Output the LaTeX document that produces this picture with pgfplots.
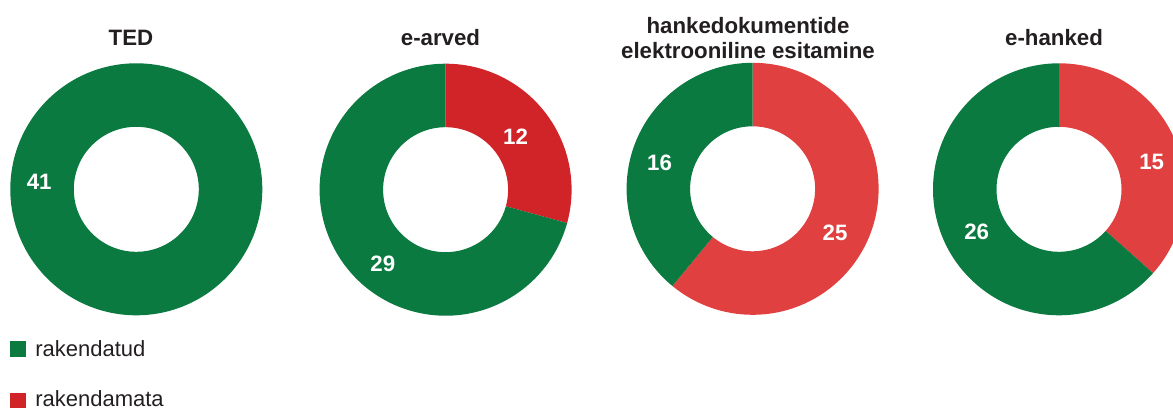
\documentclass[border=0pt]{standalone}
\usepackage{pgfplots}
\pgfplotsset{compat=1.18}
\usepackage{fontspec}
\setmainfont{Liberation Sans}
\definecolor{impl}{RGB}{11,122,65}
\definecolor{notimplA}{RGB}{209,36,41}
\definecolor{notimplB}{RGB}{224,64,64}
\definecolor{txt}{RGB}{35,31,32}
\newcommand\Rout{94.5pt}
\newcommand\Rin{46.875pt}
\newcommand\titlefont{\fontsize{16.7}{20}\selectfont\bfseries}
% \slice{cx}{cy}{from}{to}{total}{colour}
\newcommand\slice[6]{%
  \fill[#6] ([shift={({90-360*#3/#5}:\Rout)}]axis cs:#1,#2)
    arc[start angle={90-360*#3/#5}, end angle={90-360*#4/#5}, radius=\Rout]
    -- ([shift={({90-360*#4/#5}:\Rin)}]axis cs:#1,#2)
    arc[start angle={90-360*#4/#5}, end angle={90-360*#3/#5}, radius=\Rin]
    -- cycle;}
\begin{document}
\begin{tikzpicture}
\useasboundingbox (0,0) rectangle (879.75pt,307.5pt);
\clip (0,0) rectangle (879.75pt,307.5pt);
\begin{axis}[at={(0,0)}, anchor=south west, scale only axis,
  width=879.75pt, height=307.5pt,
  xmin=0, xmax=1173, ymin=0, ymax=410, hide axis, clip=false]
% TED: rakendatud 41, rakendamata 0
\slice{136.3}{220.7}{0}{41}{41}{impl}
% e-arved: rakendamata 12, rakendatud 29
\slice{445.6}{220.3}{0}{12}{41}{notimplA}
\slice{445.6}{220.3}{12}{41}{41}{impl}
% hankedokumentide elektrooniline esitamine: rakendamata 25, rakendatud 16
\slice{752.6}{221.2}{0}{25}{41}{notimplB}
\slice{752.6}{221.2}{25}{41}{41}{impl}
% e-hanked: rakendamata 15, rakendatud 26
\slice{1059}{220.7}{0}{15}{41}{notimplB}
\slice{1059}{220.7}{15}{41}{41}{impl}
% data labels
\addplot[draw=none, mark=none, nodes near coords, point meta=explicit symbolic,
  nodes near coords style={font=\titlefont, text=white, anchor=center, inner sep=0pt}]
  table[meta=label] {
x y label
39.2 227.8 41
515.5 273.3 12
382.8 146.2 29
659.5 247.5 16
835.0 176.7 25
1151.7 248.3 15
976.7 177.7 26
};
% titles
\node[font=\titlefont, text=txt, anchor=base, inner sep=0pt] at (axis cs:131,364) {TED};
\node[font=\titlefont, text=txt, anchor=base, inner sep=0pt] at (axis cs:440.5,364) {e-arved};
\node[font=\titlefont, text=txt, anchor=base, inner sep=0pt] at (axis cs:748,376.7) {hankedokumentide};
\node[font=\titlefont, text=txt, anchor=base, inner sep=0pt] at (axis cs:748,351.7) {elektrooniline esitamine};
\node[font=\titlefont, text=txt, anchor=base, inner sep=0pt] at (axis cs:1054,364) {e-hanked};
% legend
\fill[impl] (axis cs:10,52.7) rectangle (axis cs:25.7,69.3);
\node[font=\fontsize{16.5}{20}\selectfont, text=txt, anchor=base west, inner sep=0pt] at (axis cs:35,53.3) {rakendatud};
\fill[notimplA] (axis cs:10,1.5) rectangle (axis cs:25.7,17.2);
\node[font=\fontsize{16.5}{20}\selectfont, text=txt, anchor=base west, inner sep=0pt] at (axis cs:35,3) {rakendamata};
\end{axis}
\end{tikzpicture}
\end{document}
